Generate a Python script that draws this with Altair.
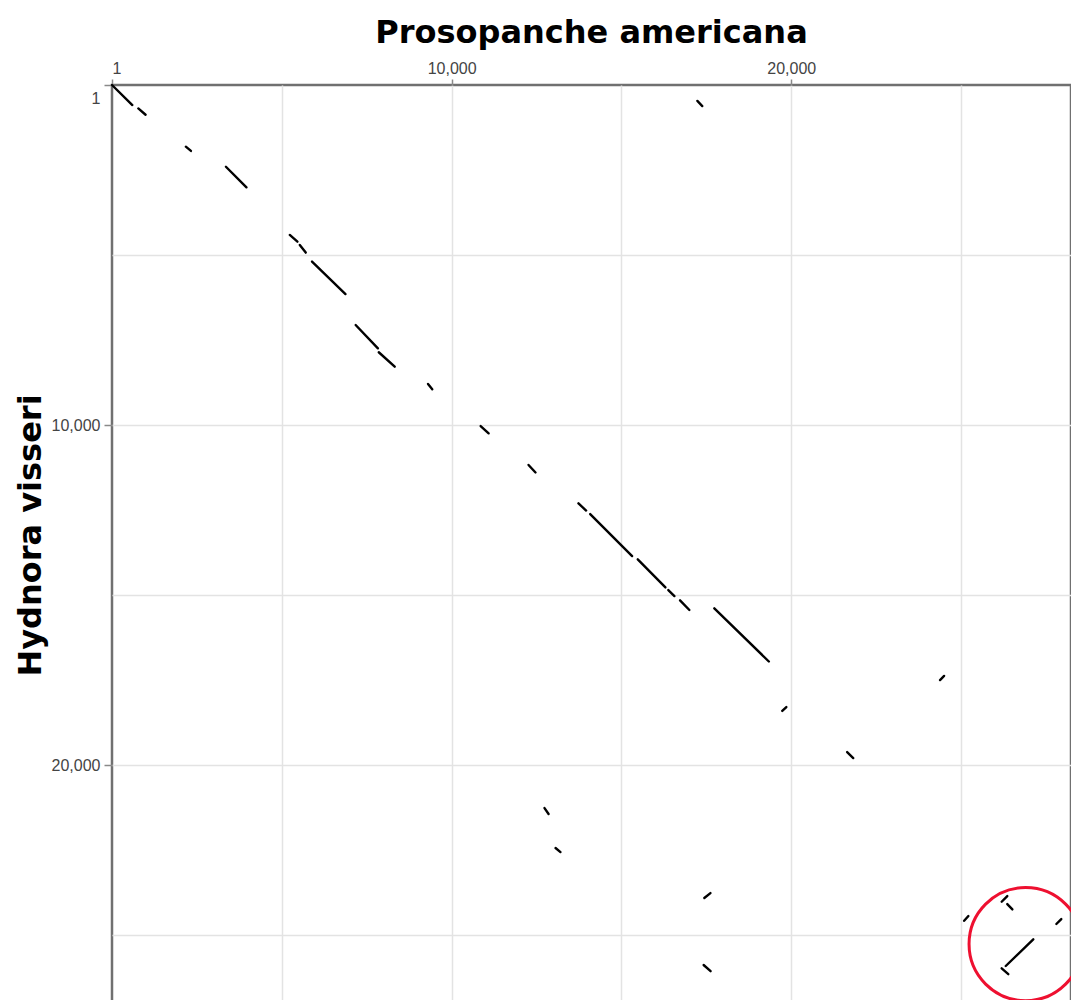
import altair as alt
import pandas as pd

# Genome lengths (bp)
x_len = 28236   # Prosopanche americana
y_len = 27233   # Hydnora visseri

# Alignment segments: start/end positions on each genome
seg_x1 = [1, 775, 2175, 3355, 5235, 5530, 5890, 7175, 7855, 9305, 10855, 12265, 13735,
          14080, 15480, 16380, 16725, 17735, 17235, 21645, 12735, 13060, 17420, 26360, 26195,
          24380, 19735, 17440, 25090, 26195, 27805, 26315]
seg_y1 = [1, 690, 1815, 2405, 4410, 4705, 5195, 7060, 7860, 8795, 10030, 11175, 12305,
          12620, 13950, 14855, 15155, 15390, 470, 19620, 21265, 22440, 25880, 24090, 25980,
          17500, 18410, 23910, 24580, 24020, 24675, 25910]
seg_x2 = [600, 990, 2325, 3960, 5460, 5705, 6875, 7830, 8325, 9430, 11090, 12470, 13960,
          15315, 16295, 16560, 17000, 19340, 17380, 21825, 12855, 13205, 17625, 26510, 26390,
          24500, 19855, 17620, 25215, 26360, 27950, 27125]
seg_y2 = [590, 875, 1940, 3010, 4610, 4930, 6150, 7745, 8285, 8950, 10245, 11395, 12515,
          13855, 14775, 15030, 15440, 16955, 620, 19795, 21440, 22560, 26060, 24245, 26150,
          17380, 18295, 23765, 24440, 23855, 24530, 25125]

# Highlight annotation (red circle)
circle_x = [26900]
circle_y = [25265]

grid_values = [1, 5000, 10000, 15000, 20000, 25000]

segs = pd.DataFrame({"x1": seg_x1, "y1": seg_y1, "x2": seg_x2, "y2": seg_y2})
circ = pd.DataFrame({"x": circle_x, "y": circle_y})

label_expr = "(datum.value == 1 || datum.value % 10000 == 0) ? format(datum.value, ',') : ''"
tick_color = {"condition": {"test": "datum.value == 1 || datum.value % 10000 == 0", "value": "#8a8a8a"},
              "value": "transparent"}
grid_color = {"condition": {"test": "datum.value == 1", "value": "transparent"}, "value": "#e3e3e3"}

xscale = alt.Scale(domain=[1, x_len], nice=False, zero=False)
yscale = alt.Scale(domain=[1, y_len], nice=False, zero=False, reverse=True)

xaxis = alt.Axis(orient="top", values=grid_values, labelExpr=label_expr, title=None,
                 labelFont="Liberation Sans", labelFontSize=16, labelColor="#444444",
                 labelFlush=True, labelOverlap=False, tickSize=6, labelPadding=3,
                 tickColor=tick_color, tickWidth=1.5, gridColor=grid_color, gridWidth=1.5,
                 domain=False)
yaxis = alt.Axis(orient="left", values=grid_values, labelExpr=label_expr,
                 title="Hydnora visseri", titleFont="DejaVu Sans", titleFontSize=32,
                 titleFontWeight="bold", titleColor="#000000", titleAngle=270,
                 titleX=-82, titleY=450, titleAlign="center", titleBaseline="middle",
                 labelFont="Liberation Sans", labelFontSize=16, labelColor="#444444",
                 labelFlush=True, labelFlushOffset=-5, labelOverlap=False, tickSize=8,
                 labelPadding=4, tickColor=tick_color, tickWidth=1.5, gridColor=grid_color,
                 gridWidth=1.5, domain=False)

lines = alt.Chart(segs).mark_rule(color="black", strokeWidth=2.4, strokeCap="round").encode(
    x=alt.X("x1:Q", scale=xscale, axis=xaxis),
    y=alt.Y("y1:Q", scale=yscale, axis=yaxis),
    x2="x2:Q",
    y2="y2:Q",
)

ring = alt.Chart(circ).mark_point(shape="circle", filled=False, stroke="#ee1030",
                                  strokeWidth=3, size=12800, opacity=1, clip=False).encode(
    x=alt.X("x:Q", scale=xscale),
    y=alt.Y("y:Q", scale=yscale),
)

chart = alt.layer(lines, ring).properties(
    width=959,
    height=926,
    title=alt.TitleParams("Prosopanche americana", font="DejaVu Sans", fontSize=32,
                          fontWeight="bold", color="#000000", anchor="middle", offset=10),
    autosize=alt.AutoSizeParams(type="none"),
    padding={"left": 104, "top": 77, "right": 0, "bottom": -11},
).configure_view(stroke="#707070", strokeWidth=2.5)

chart.save("out.html", embed_options={"renderer": "svg", "actions": False})
